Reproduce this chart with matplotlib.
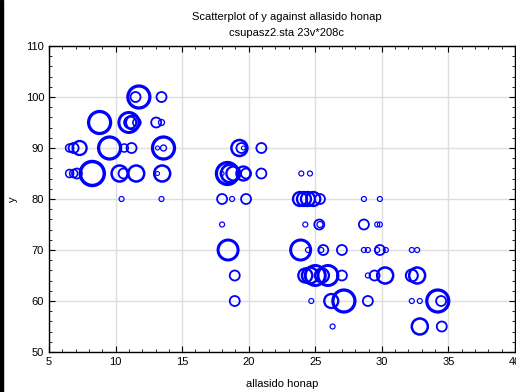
import numpy as np
import matplotlib
matplotlib.use('Agg')
import matplotlib.pyplot as plt
from matplotlib.patches import Rectangle
from matplotlib.ticker import MultipleLocator

plt.rcParams['font.family'] = ['Liberation Sans', 'DejaVu Sans']

x = [11.75, 11.5, 13.45,
     8.8, 11.0, 11.3, 11.1, 11.6, 13.05, 13.45,
     6.55, 6.85, 7.3, 9.55, 10.65, 11.2, 13.6, 13.15, 13.6,
     6.55, 6.85, 7.1, 8.25, 10.3, 10.6, 11.55, 13.5, 13.15,
     10.45, 13.45,
     19.3, 19.45, 19.6, 20.95,
     18.4, 18.6, 18.85, 18.0, 19.6, 19.8, 20.95,
     18.0, 18.75, 19.8,
     18.0,
     18.45,
     18.95,
     18.95,
     23.95, 24.6,
     23.85, 24.15, 24.45, 24.85, 25.35, 28.65, 29.85,
     24.25, 25.3, 25.35, 28.65, 29.65, 29.85,
     23.9, 24.45, 25.45, 25.6, 27.0, 28.65, 28.95, 29.65, 29.85, 30.3, 32.25, 32.65,
     24.25, 24.6, 25.0, 25.5, 25.95, 27.0, 28.95, 29.45, 30.25, 32.25, 32.65,
     24.7, 26.2, 27.15, 28.95, 32.25, 32.85, 34.2, 34.45,
     26.3, 32.85, 34.5]
y = [100, 100, 100,
     95, 95, 95, 95, 95, 95, 95,
     90, 90, 90, 90, 90, 90, 90, 90, 90,
     85, 85, 85, 85, 85, 85, 85, 85, 85,
     80, 80,
     90, 90, 90, 90,
     85, 85, 85, 85, 85, 85, 85,
     80, 80, 80,
     75,
     70,
     65,
     60,
     85, 85,
     80, 80, 80, 80, 80, 80, 80,
     75, 75, 75, 75, 75, 75,
     70, 70, 70, 70, 70, 70, 70, 70, 70, 70, 70, 70,
     65, 65, 65, 65, 65, 65, 65, 65, 65, 65, 65,
     60, 60, 60, 60, 60, 60, 60, 60,
     55, 55, 55]
z = [11, 5, 5,
     11, 10, 7, 6, 4, 5, 3,
     4, 5, 7, 11, 4, 5, 11, 2, 3,
     4, 4, 5, 12, 8, 5, 8, 8, 2,
     2.5, 2.5,
     8, 5, 2, 5,
     11, 9, 7, 2, 7, 5, 5,
     5, 2.5, 5,
     2.5,
     10,
     5,
     5,
     2.5, 2.5,
     7, 7, 7, 7, 5, 2.5, 2.5,
     2.5, 5, 3, 5, 2.5, 2.5,
     10, 2.5, 2.5, 5, 5, 2.5, 2.5, 2.5, 5, 2.5, 2.5, 2.5,
     7, 8, 10, 7, 10, 5, 2.5, 5, 8, 6, 8,
     2.5, 7, 11, 5, 2.5, 2.5, 11, 5,
     2.5, 8, 5]

W, H, DPI = 516, 392, 100
fig = plt.figure(figsize=(W / DPI, H / DPI), dpi=DPI)
ax = fig.add_axes([49 / W, 1 - 352 / H, 466 / W, 306 / H])

px = 72.0 / DPI  # points per pixel
zz = np.array(z, dtype=float)
sizes = (2 * zz * px) ** 2
widths = (0.6 + 0.24 * zz) * px
ax.scatter(x, y, s=sizes, facecolors='none', edgecolors='#0000ff',
           linewidths=widths, zorder=3)

ax.set_xlim(5, 40)
ax.set_ylim(50, 110)
ax.xaxis.set_major_locator(MultipleLocator(5))
ax.xaxis.set_minor_locator(MultipleLocator(1))
ax.yaxis.set_major_locator(MultipleLocator(10))
ax.yaxis.set_minor_locator(MultipleLocator(2))
ax.grid(True, which='major', color='#dedede', linewidth=1.0)
ax.set_axisbelow(True)
ax.tick_params(which='both', direction='in', top=True, right=True,
               labelsize=8, color='black')
ax.tick_params(which='major', length=4, width=0.8)
ax.tick_params(which='minor', length=2.5, width=0.6)
for s in ax.spines.values():
    s.set_linewidth(1.0)

ax.set_xlabel('allasido honap', fontsize=8, labelpad=9)
fig.text(13 / W, 1 - 199 / H, 'y', rotation=90, ha='center', va='center',
         fontsize=8)
fig.text(0.555, 1 - 17 / H, 'Scatterplot of y against allasido honap',
         ha='center', va='center', fontsize=8)
fig.text(0.555, 1 - 33 / H, 'csupasz2.sta 23v*208c',
         ha='center', va='center', fontsize=8)

fig.patches.append(Rectangle((0, 0), 3 / W, 1, transform=fig.transFigure,
                             color='black', zorder=10))

fig.savefig('out.png', dpi=DPI)
